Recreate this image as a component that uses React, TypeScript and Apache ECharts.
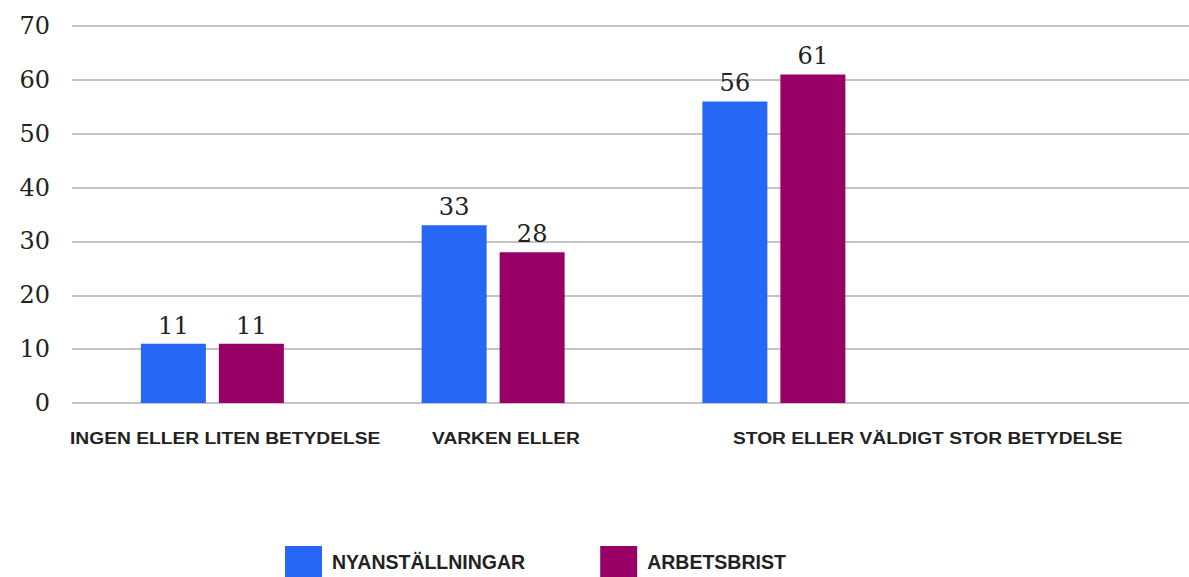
import React, { useEffect, useRef } from "react";
import * as echarts from "echarts";

const categories = [
  "INGEN ELLER LITEN BETYDELSE",
  "VARKEN ELLER",
  "STOR ELLER VÄLDIGT STOR BETYDELSE",
  "",
];
const seriesNames = ["NYANSTÄLLNINGAR", "ARBETSBRIST"];
const nyanstallningar = [11, 33, 56, null];
const arbetsbrist = [11, 28, 61, null];
const colors = ["#2667F5", "#990066"];
const labelX = [70, 432, 733];

export default function App() {
  const ref = useRef<HTMLDivElement>(null);
  useEffect(() => {
    document.body.style.margin = "0";
    document.body.style.overflow = "hidden";
    const chart = echarts.init(ref.current!, null, { renderer: "svg" });
    const labelFont = "'Liberation Sans', Arial, sans-serif";
    const serif = "'DejaVu Serif', 'Liberation Serif', serif";
    chart.setOption({
      animation: false,
      grid: { left: 72, width: 1123, top: 26, bottom: 174, containLabel: false },
      legend: {
        data: seriesNames,
        top: 541,
        left: 280,
        itemWidth: 37,
        itemHeight: 31,
        itemGap: 75,
        icon: "rect",
        textStyle: {
          fontFamily: labelFont,
          fontWeight: "bold",
          fontSize: 19.5,
          color: "#222",
          padding: [6, 0, 0, 5],
        },
      },
      xAxis: {
        type: "category",
        data: categories,
        axisLine: { show: false },
        axisTick: { show: false },
        axisLabel: { show: false },
      },
      yAxis: {
        type: "value",
        min: 0,
        max: 70,
        interval: 10,
        axisLine: { show: false },
        axisTick: { show: false },
        axisLabel: {
          fontFamily: serif,
          fontSize: 24,
          color: "#222",
          margin: 22,
        },
        splitLine: { lineStyle: { color: "#b0b0b0", width: 1.5 } },
      },
      graphic: categories
        .filter((c) => c)
        .map((c, i) => ({
          type: "text",
          x: labelX[i],
          y: 430,
          scaleX: 1.13,
          style: {
            text: c,
            fontFamily: labelFont,
            fontWeight: "bold",
            fontSize: 17,
            fill: "#222",
          },
        })),
      series: [nyanstallningar, arbetsbrist].map((d, i) => ({
        name: seriesNames[i],
        type: "bar",
        data: d,
        barWidth: 65,
        barGap: "20%",
        itemStyle: { color: colors[i] },
        label: {
          show: true,
          position: "top",
          distance: 6,
          fontFamily: serif,
          fontSize: 24,
          color: "#222",
        },
      })),
    });
    return () => chart.dispose();
  }, []);
  return <div ref={ref} style={{ width: 1200, height: 577 }} />;
}
